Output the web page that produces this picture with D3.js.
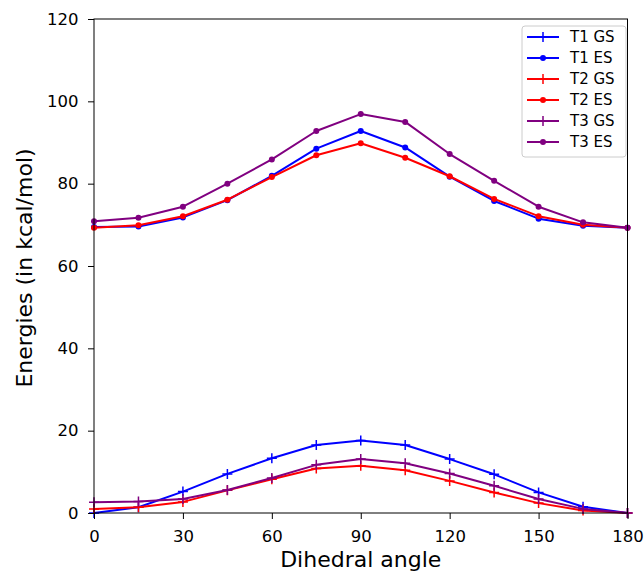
<!DOCTYPE html>
<html>
<head>
<meta charset="utf-8">
<script src="https://cdn.jsdelivr.net/npm/d3@7"></script>
<style>
  html, body { margin: 0; padding: 0; background: #fff; }
  svg { display: block; font-family: "DejaVu Sans", sans-serif; }
</style>
</head>
<body>
<svg id="chart" width="644" height="573"></svg>
<script>
// Dihedral scan: torsion angle in degrees
const angles = [0, 15, 30, 45, 60, 75, 90, 105, 120, 135, 150, 165, 180];

// Energies in kcal/mol
const t1GS = [0.0, 1.4, 5.2, 9.5, 13.3, 16.5, 17.6, 16.5, 13.1, 9.4, 5.0, 1.5, 0.0];
const t1ES = [69.5, 69.6, 71.8, 76.0, 81.9, 88.5, 92.8, 88.8, 81.7, 75.8, 71.5, 69.8, 69.3];
const t2GS = [1.0, 1.4, 2.7, 5.5, 8.2, 10.8, 11.5, 10.4, 7.8, 5.0, 2.4, 0.6, 0.0];
const t2ES = [69.3, 69.9, 72.1, 76.1, 81.6, 86.9, 89.8, 86.3, 81.8, 76.3, 72.1, 70.0, 69.3];
const t3GS = [2.6, 2.8, 3.4, 5.6, 8.5, 11.7, 13.1, 12.1, 9.6, 6.6, 3.4, 1.0, 0.0];
const t3ES = [70.9, 71.7, 74.4, 80.0, 85.9, 92.8, 96.9, 95.0, 87.2, 80.7, 74.4, 70.6, 69.3];

const xTicks = [0, 30, 60, 90, 120, 150, 180];
const yTicks = [0, 20, 40, 60, 80, 100, 120];

const seriesNames = ["T1 GS", "T1 ES", "T2 GS", "T2 ES", "T3 GS", "T3 ES"];
const seriesValues = [t1GS, t1ES, t2GS, t2ES, t3GS, t3ES];
const seriesColors = ["#0000ff", "#0000ff", "#ff0000", "#ff0000", "#800080", "#800080"];
const seriesMarkers = ["plus", "dot", "plus", "dot", "plus", "dot"];

const svg = d3.select("#chart");
const plot = { left: 94, right: 627.5, top: 19, bottom: 513 };

const x = d3.scaleLinear().domain([0, 180]).range([plot.left, plot.right]);
const y = d3.scaleLinear().domain([0, 120]).range([plot.bottom, plot.top]);

const line = d3.line().x((d, i) => x(angles[i])).y(d => y(d));

const g = svg.append("g");

seriesValues.forEach((vals, k) => {
  const color = seriesColors[k];
  g.append("path")
    .datum(vals)
    .attr("d", line)
    .attr("fill", "none")
    .attr("stroke", color)
    .attr("stroke-width", 2)
    .attr("stroke-linejoin", "round");
  const pts = g.append("g");
  vals.forEach((v, i) => {
    const cx = x(angles[i]), cy = y(v);
    if (seriesMarkers[k] === "dot") {
      pts.append("circle").attr("cx", cx).attr("cy", cy).attr("r", 3).attr("fill", color);
    } else {
      pts.append("path")
        .attr("d", `M${cx - 5},${cy}H${cx + 5}M${cx},${cy - 5}V${cy + 5}`)
        .attr("stroke", color).attr("stroke-width", 1.5).attr("fill", "none");
    }
  });
});

// Axes frame
svg.append("rect")
  .attr("x", plot.left).attr("y", plot.top)
  .attr("width", plot.right - plot.left).attr("height", plot.bottom - plot.top)
  .attr("fill", "none").attr("stroke", "#000").attr("stroke-width", 1);

const xAxis = svg.append("g")
  .attr("transform", `translate(0,${plot.bottom})`)
  .call(d3.axisBottom(x).tickValues(xTicks).tickSize(6).tickPadding(11).tickFormat(d3.format("d")));
const yAxis = svg.append("g")
  .attr("transform", `translate(${plot.left},0)`)
  .call(d3.axisLeft(y).tickValues(yTicks).tickSize(6).tickPadding(9.5).tickFormat(d3.format("d")));

[xAxis, yAxis].forEach(ax => {
  ax.select(".domain").remove();
  ax.selectAll(".tick line").attr("stroke", "#000").attr("stroke-width", 1);
  ax.selectAll(".tick text")
    .attr("fill", "#000")
    .style("font-family", "'DejaVu Sans', sans-serif")
    .style("font-size", "16.5px");
});

svg.append("text")
  .attr("x", (plot.left + plot.right) / 2)
  .attr("y", 567)
  .attr("text-anchor", "middle")
  .style("font-size", "22px")
  .text("Dihedral angle");

svg.append("text")
  .attr("transform", `translate(31.5,268) rotate(-90)`)
  .attr("text-anchor", "middle")
  .style("font-size", "22px")
  .text("Energies (in kcal/mol)");

// Legend
const leg = svg.append("g");
leg.append("rect")
  .attr("x", 522).attr("y", 26).attr("width", 104).attr("height", 131)
  .attr("rx", 3).attr("ry", 3)
  .attr("fill", "#fff").attr("fill-opacity", 0.8)
  .attr("stroke", "#cccccc").attr("stroke-width", 1);

seriesNames.forEach((name, k) => {
  const ry = 37 + k * 21;
  const color = seriesColors[k];
  leg.append("line")
    .attr("x1", 527).attr("x2", 559).attr("y1", ry).attr("y2", ry)
    .attr("stroke", color).attr("stroke-width", 2);
  if (seriesMarkers[k] === "dot") {
    leg.append("circle").attr("cx", 543).attr("cy", ry).attr("r", 3).attr("fill", color);
  } else {
    leg.append("path")
      .attr("d", `M538,${ry}H548M543,${ry - 5}V${ry + 5}`)
      .attr("stroke", color).attr("stroke-width", 1.5);
  }
  leg.append("text")
    .attr("x", 570).attr("y", ry)
    .attr("dy", "0.36em")
    .style("font-size", "15px")
    .text(name);
});
</script>
</body>
</html>
